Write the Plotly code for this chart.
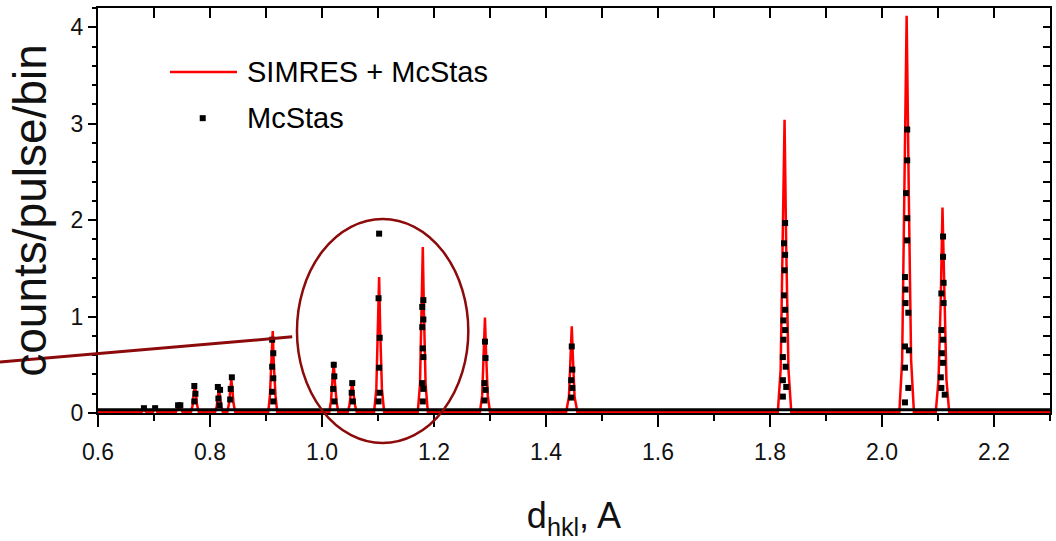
import plotly.graph_objects as go

# ---------------- data ----------------
# SIMRES + McStas simulated curve (red line)
simres_x = [0.600,
            0.678, 0.682, 0.686,
            0.698, 0.702, 0.706,
            0.739, 0.745, 0.751,
            0.766, 0.769, 0.771, 0.773, 0.775, 0.777, 0.780,
            0.809, 0.812, 0.814, 0.816, 0.818, 0.820, 0.823,
            0.831, 0.834, 0.836, 0.838, 0.840, 0.842, 0.845,
            0.904, 0.907, 0.910, 0.912, 0.914, 0.917, 0.920,
            1.013, 1.016, 1.019, 1.021, 1.023, 1.026, 1.029,
            1.046, 1.049, 1.052, 1.054, 1.056, 1.059, 1.062,
            1.093, 1.097, 1.100, 1.102, 1.104, 1.107, 1.111,
            1.171, 1.175, 1.178, 1.180, 1.182, 1.185, 1.189,
            1.282, 1.286, 1.289, 1.291, 1.293, 1.296, 1.300,
            1.436, 1.441, 1.444, 1.446, 1.448, 1.451, 1.456,
            1.814, 1.819, 1.823, 1.826, 1.829, 1.833, 1.838,
            2.031, 2.036, 2.040, 2.044, 2.048, 2.052, 2.057,
            2.096, 2.101, 2.105, 2.108, 2.111, 2.115, 2.120,
            2.300]
simres_y = [0.01,
            0.01, 0.04, 0.01,
            0.01, 0.05, 0.01,
            0.01, 0.08, 0.01,
            0.01, 0.08, 0.20, 0.29, 0.20, 0.08, 0.01,
            0.01, 0.07, 0.17, 0.25, 0.17, 0.07, 0.01,
            0.01, 0.10, 0.24, 0.35, 0.24, 0.10, 0.01,
            0.01, 0.18, 0.50, 0.85, 0.50, 0.18, 0.01,
            0.01, 0.12, 0.32, 0.53, 0.32, 0.12, 0.01,
            0.01, 0.08, 0.21, 0.33, 0.21, 0.08, 0.01,
            0.01, 0.25, 0.85, 1.41, 0.85, 0.25, 0.01,
            0.01, 0.30, 1.05, 1.72, 1.05, 0.30, 0.01,
            0.01, 0.18, 0.62, 0.99, 0.62, 0.18, 0.01,
            0.01, 0.17, 0.58, 0.90, 0.58, 0.17, 0.01,
            0.01, 0.45, 1.70, 3.04, 1.70, 0.45, 0.01,
            0.01, 0.55, 2.20, 4.12, 2.20, 0.55, 0.01,
            0.01, 0.35, 1.20, 2.13, 1.20, 0.35, 0.01,
            0.01]

# McStas reference points (black squares) on the peaks
mcstas_x = [0.682, 0.702, 0.743, 0.747,
            0.772, 0.774, 0.772,
            0.814, 0.818, 0.815, 0.817,
            0.839, 0.837, 0.836,
            0.911, 0.913, 0.911, 0.913, 0.911, 0.913,
            1.021, 1.022, 1.020, 1.022,
            1.054, 1.053, 1.055,
            1.102, 1.101, 1.103, 1.102, 1.103, 1.101,
            1.181, 1.179, 1.181, 1.179, 1.180, 1.181, 1.179, 1.181, 1.180,
            1.291, 1.292, 1.290, 1.292, 1.290,
            1.446, 1.447, 1.445, 1.447, 1.445,
            1.827, 1.825, 1.827, 1.826, 1.825, 1.827, 1.824, 1.827, 1.824,
            1.823, 1.828, 1.823, 1.829, 1.823,
            2.045, 2.045, 2.043, 2.045, 2.045, 2.041, 2.042, 2.042, 2.047,
            2.041, 2.048, 2.041, 2.047, 2.041,
            2.109, 2.109, 2.110, 2.106, 2.110, 2.106, 2.109, 2.107, 2.109,
            2.105, 2.106, 2.112]
mcstas_y = [0.05, 0.05, 0.08, 0.08,
            0.28, 0.20, 0.12,
            0.27, 0.24, 0.15, 0.08,
            0.37, 0.25, 0.14,
            0.76, 0.62, 0.48, 0.36, 0.22, 0.12,
            0.50, 0.38, 0.25, 0.12,
            0.31, 0.21, 0.12,
            1.86, 1.19, 0.78, 0.47, 0.21, 0.12,
            1.17, 1.10, 0.97, 0.89, 0.67, 0.58, 0.31, 0.25, 0.12,
            0.74, 0.57, 0.31, 0.24, 0.13,
            0.69, 0.45, 0.34, 0.26, 0.16,
            1.97, 1.76, 1.64, 1.48, 1.22, 1.07, 0.96, 0.86, 0.76,
            0.58, 0.48, 0.34, 0.27, 0.17,
            2.94, 2.62, 2.28, 2.02, 1.79, 1.41, 1.28, 1.14, 1.04,
            0.69, 0.65, 0.47, 0.26, 0.11,
            1.83, 1.62, 1.35, 1.24, 1.14, 0.86, 0.76, 0.62, 0.52,
            0.37, 0.26, 0.19]

# McStas background level (dense black points forming the baseline)
mcstas_base_x = [0.60, 2.30]
mcstas_base_y = [0.035, 0.035]

x_range = [0.6, 2.3]
y_range = [0.0, 4.2]
x_tickvals = [0.6, 0.8, 1.0, 1.2, 1.4, 1.6, 1.8, 2.0, 2.2]
x_ticktext = ["0.6", "0.8", "1.0", "1.2", "1.4", "1.6", "1.8", "2.0", "2.2"]
y_tickvals = [0, 1, 2, 3, 4]
y_ticktext = ["0", "1", "2", "3", "4"]

series_names = ["SIMRES + McStas", "McStas"]

# ---------------- figure ----------------
FONT = "Liberation Sans, Arial, sans-serif"
DARKRED = "#8c0a0a"

fig = go.Figure()

fig.add_trace(go.Scatter(x=simres_x, y=simres_y, mode="lines", name=series_names[0],
                         line=dict(color="#ff0000", width=2.5),
                         showlegend=False))
fig.add_trace(go.Scatter(x=mcstas_base_x, y=mcstas_base_y, mode="lines",
                         line=dict(color="black", width=3),
                         showlegend=False, hoverinfo="skip"))
fig.add_trace(go.Scatter(x=mcstas_x, y=mcstas_y, mode="markers", name=series_names[1],
                         marker=dict(symbol="square", size=6, color="black",
                                     line=dict(width=0)),
                         showlegend=False))
# empty trace so the mirrored top/right axes get drawn
fig.add_trace(go.Scatter(x=[], y=[], xaxis="x2", yaxis="y2",
                         showlegend=False, hoverinfo="skip"))

fig.update_layout(
    width=1056, height=541,
    margin=dict(l=98, r=6, t=8, b=128),
    paper_bgcolor="white", plot_bgcolor="white",
    font=dict(family=FONT, color="#111111"),
    xaxis=dict(range=x_range, tickvals=x_tickvals, ticktext=x_ticktext,
               ticks="outside", ticklen=12, tickwidth=1.5, tickcolor="black",
               minor=dict(ticks="outside", ticklen=6, tickwidth=1.5,
                          tickcolor="black", dtick=0.1, showgrid=False),
               showline=True, linecolor="black", linewidth=2,
               showgrid=False, zeroline=False, ticklabelstandoff=5,
               tickfont=dict(size=23, family=FONT, color="#111111"),
               title=dict(text="d<sub>hkl</sub>, A", font=dict(size=36, family=FONT),
                          standoff=44)),
    yaxis=dict(range=y_range, tickvals=y_tickvals, ticktext=y_ticktext,
               ticks="outside", ticklen=8, tickwidth=1.5, tickcolor="black",
               minor=dict(ticks="outside", ticklen=4, tickwidth=1.5,
                          tickcolor="black", dtick=0.2, showgrid=False),
               showline=True, linecolor="black", linewidth=2,
               showgrid=False, zeroline=False,
               tickfont=dict(size=23, family=FONT, color="#111111"),
               title=dict(text="counts/pulse/bin", font=dict(size=46, family=FONT),
                          standoff=10)),
    xaxis2=dict(range=x_range, overlaying="x", side="top", anchor="y2",
                dtick=0.1, tick0=0.6, ticks="inside", ticklen=10, tickwidth=1.5,
                tickcolor="black", showticklabels=False,
                showline=True, linecolor="black", linewidth=2,
                showgrid=False, zeroline=False),
    yaxis2=dict(range=y_range, overlaying="y", side="right", anchor="x2",
                dtick=0.2, tick0=0, ticks="inside", ticklen=7, tickwidth=1.5,
                tickcolor="black", showticklabels=False,
                showline=True, linecolor="black", linewidth=2,
                showgrid=False, zeroline=False),
    showlegend=False,
)

# hand-drawn style legend
fig.add_shape(type="line", xref="paper", yref="paper",
              x0=0.0756, x1=0.146, y0=0.842, y1=0.842,
              line=dict(color="#ff0000", width=2.5))
fig.add_shape(type="rect", xref="paper", yref="paper",
              xsizemode="pixel", ysizemode="pixel",
              xanchor=0.110, yanchor=0.728, x0=-3, x1=3, y0=-3, y1=3,
              fillcolor="black", line=dict(width=0))
fig.add_annotation(xref="paper", yref="paper", x=0.154, y=0.842,
                   xanchor="left", yanchor="middle", showarrow=False,
                   text=series_names[0], font=dict(size=29, family=FONT, color="black"))
fig.add_annotation(xref="paper", yref="paper", x=0.154, y=0.728,
                   xanchor="left", yanchor="middle", showarrow=False,
                   text=series_names[1], font=dict(size=29, family=FONT, color="black"))

# ellipse highlight and pointer line
fig.add_shape(type="circle", xref="paper", yref="paper",
              x0=0.209, x1=0.389, y0=-0.074, y1=0.479,
              line=dict(color=DARKRED, width=2.5))
fig.add_shape(type="line", xref="paper", yref="paper",
              x0=-0.103, x1=0.204, y0=0.126, y1=0.188,
              line=dict(color=DARKRED, width=3))

fig.write_html("out.html")
